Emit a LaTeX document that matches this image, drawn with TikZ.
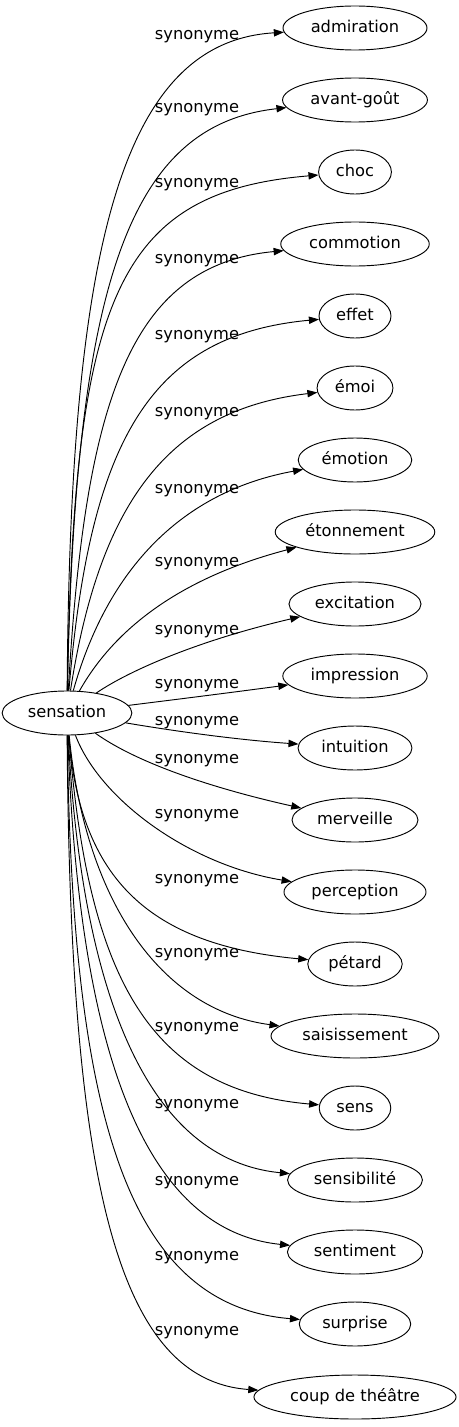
\documentclass[tikz,border=0pt]{standalone}
\usepackage{fontspec}
\setmainfont{DejaVu Sans}
\usetikzlibrary{arrows.meta,shapes.geometric}
\tikzset{mot/.style={draw, ellipse, line width=0.7pt, inner xsep=5pt, inner ysep=2pt, minimum height=33pt, text height=9pt, text depth=2.5pt}}
\tikzset{syn/.style={anchor=base, inner sep=0pt}}
\tikzset{lien/.style={-{Triangle[length=7.5pt,width=5.5pt]}, line width=0.7pt}}

\begin{document}
\begin{tikzpicture}[x=0.75pt, y=-0.75pt, every node/.style={font=\fontsize{12.2pt}{14pt}\selectfont}]
\useasboundingbox (0,0) rectangle (459,1427);

\node[mot] (sensation) at (67,713) {sensation};

\node[mot] (admiration) at (355,28) {admiration};
\node[mot] (avantgout) at (355,100) {avant-goût};
\node[mot] (choc) at (355,172) {choc};
\node[mot] (commotion) at (355,244) {commotion};
\node[mot] (effet) at (355,316) {effet};
\node[mot] (emoi) at (355,388) {émoi};
\node[mot] (emotion) at (355,460) {émotion};
\node[mot] (etonnement) at (355,532) {étonnement};
\node[mot] (excitation) at (355,604) {excitation};
\node[mot] (impression) at (355,676) {impression};
\node[mot] (intuition) at (355,748) {intuition};
\node[mot] (merveille) at (355,820) {merveille};
\node[mot] (perception) at (355,892) {perception};
\node[mot] (petard) at (355,964) {pétard};
\node[mot] (saisissement) at (355,1036) {saisissement};
\node[mot] (sens) at (355,1108) {sens};
\node[mot] (sensibilite) at (355,1180) {sensibilité};
\node[mot] (sentiment) at (355,1252) {sentiment};
\node[mot] (surprise) at (355,1324) {surprise};
\node[mot] (coup) at (355,1397) {coup de théâtre};

% liens
\draw[lien] (sensation) .. controls (70,250) and (120,42) .. (admiration);
\draw[lien] (sensation) .. controls (75,280) and (130,125) .. (avantgout);
\draw[lien] (sensation) .. controls (74,300) and (115,192) .. (choc);
\draw[lien] (sensation) .. controls (85,400) and (130,265) .. (commotion);
\draw[lien] (sensation) .. controls (90,440) and (150,335) .. (effet);
\draw[lien] (sensation) .. controls (100,500) and (170,410) .. (emoi);
\draw[lien] (sensation) .. controls (110,560) and (190,490) .. (emotion);
\draw[lien] (sensation) .. controls (125,610) and (210,570) .. (etonnement);
\draw[lien] (sensation) .. controls (130,670) and (200,640) .. (excitation);
\draw[lien] (sensation) .. controls (180,699) and (235,692) .. (impression);
\draw[lien] (sensation) .. controls (180,732) and (240,740) .. (intuition);
\draw[lien] (sensation) .. controls (140,765) and (220,790) .. (merveille);
\draw[lien] (sensation) .. controls (100,800) and (190,865) .. (perception);
\draw[lien] (sensation) .. controls (80,880) and (150,945) .. (petard);
\draw[lien] (sensation) .. controls (85,900) and (160,1010) .. (saisissement);
\draw[lien] (sensation) .. controls (88,980) and (150,1090) .. (sens);
\draw[lien] (sensation) .. controls (82,1000) and (150,1160) .. (sensibilite);
\draw[lien] (sensation) .. controls (78,1040) and (140,1230) .. (sentiment);
\draw[lien] (sensation) .. controls (72,1110) and (125,1305) .. (surprise);
\draw[lien] (sensation) .. controls (70,1176) and (115,1380) .. (coup);

% etiquettes
\node[syn] (s-admiration) at (197,40) {synonyme};
\node[syn] (s-avantgout) at (197,113) {synonyme};
\node[syn] (s-choc) at (197,188) {synonyme};
\node[syn] (s-commotion) at (197,263) {synonyme};
\node[syn] (s-effet) at (197,339) {synonyme};
\node[syn] (s-emoi) at (197,416) {synonyme};
\node[syn] (s-emotion) at (197,493) {synonyme};
\node[syn] (s-etonnement) at (197,566) {synonyme};
\node[syn] (s-excitation) at (197,634) {synonyme};
\node[syn] (s-impression) at (197,688) {synonyme};
\node[syn] (s-intuition) at (197,725) {synonyme};
\node[syn] (s-merveille) at (197,763) {synonyme};
\node[syn] (s-perception) at (197,818) {synonyme};
\node[syn] (s-petard) at (197,883) {synonyme};
\node[syn] (s-saisissement) at (197,957) {synonyme};
\node[syn] (s-sens) at (197,1031) {synonyme};
\node[syn] (s-sensibilite) at (197,1108) {synonyme};
\node[syn] (s-sentiment) at (197,1185) {synonyme};
\node[syn] (s-surprise) at (197,1260) {synonyme};
\node[syn] (s-coup) at (197,1335) {synonyme};

\end{tikzpicture}
\end{document}
